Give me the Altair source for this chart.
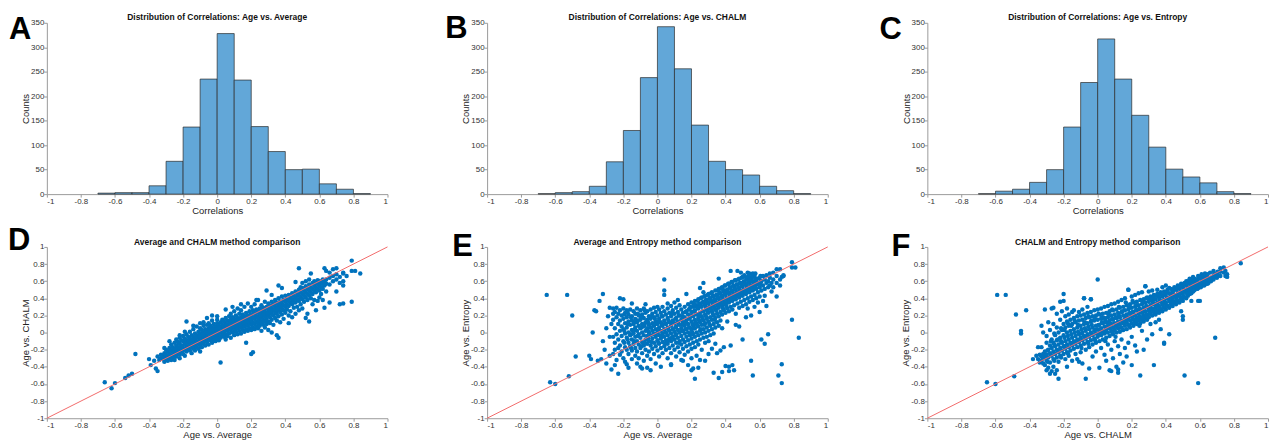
import altair as alt
import pandas as pd

FONT = "Liberation Sans"

# ---------------- histogram data ----------------
BIN_EDGES = [-0.7, -0.6, -0.5, -0.4, -0.3, -0.2, -0.1, 0.0, 0.1, 0.2, 0.3, 0.4, 0.5, 0.6, 0.7, 0.8, 0.9]
COUNTS_AVG = [2, 3, 3, 17, 67, 137, 235, 328, 233, 138, 87, 50, 51, 21, 10, 1]
COUNTS_CHALM = [1, 3, 5, 16, 66, 130, 238, 342, 256, 141, 67, 50, 39, 16, 7, 1]
COUNTS_ENTROPY = [1, 6, 10, 24, 50, 137, 228, 317, 235, 161, 96, 51, 35, 23, 5, 1]

CORR_TICKS = [-1, -0.8, -0.6, -0.4, -0.2, 0, 0.2, 0.4, 0.6, 0.8, 1]
COUNT_TICKS = [0, 50, 100, 150, 200, 250, 300, 350]

TITLES = [
    "Distribution of Correlations: Age vs. Average",
    "Distribution of Correlations: Age vs. CHALM",
    "Distribution of Correlations: Age vs. Entropy",
    "Average and CHALM method comparison",
    "Average and Entropy method comparison",
    "CHALM and Entropy method comparison",
]
LETTERS = ["A", "B", "C", "D", "E", "F"]

# ---------------- scatter data (x value: list of y values) ----------------
D_COLS = [
    (-0.33, [-0.30, -0.26]), (-0.32, [-0.27, -0.31]), (-0.31, [-0.24, -0.29]),
    (-0.30, [-0.20, -0.26, -0.31]), (-0.29, [-0.22, -0.28]), (-0.28, [-0.18, -0.25, -0.30]),
    (-0.27, [-0.21, -0.27, -0.14]), (-0.26, [-0.17, -0.23, -0.29]), (-0.25, [-0.12, -0.20, -0.26]),
    (-0.24, [-0.15, -0.22, -0.28, -0.08]), (-0.23, [-0.18, -0.24, -0.11]),
    (-0.22, [-0.13, -0.20, -0.26, -0.06]), (-0.21, [-0.16, -0.22, -0.09]),
    (-0.20, [-0.10, -0.18, -0.25, -0.04]), (-0.19, [-0.13, -0.20, -0.07, -0.27]),
    (-0.18, [-0.09, -0.16, -0.22, 0.13, -0.02]), (-0.17, [-0.12, -0.19, -0.05]),
    (-0.16, [-0.07, -0.14, -0.21, 0.01]), (-0.15, [-0.10, -0.17, -0.03, -0.24]),
    (-0.14, [-0.05, -0.12, -0.19, 0.04]), (-0.13, [-0.08, -0.15, -0.01, -0.21]),
    (-0.12, [-0.03, -0.10, -0.17, 0.07]), (-0.11, [-0.06, -0.13, 0.01, -0.19]),
    (-0.10, [-0.01, -0.08, -0.15, 0.05, -0.22]), (-0.09, [-0.04, -0.11, 0.03, -0.17]),
    (-0.08, [0.00, -0.07, -0.13, 0.08, 0.12]), (-0.07, [-0.03, -0.09, 0.04, -0.15]),
    (-0.06, [0.02, -0.05, -0.11, 0.09]), (-0.05, [-0.01, -0.07, 0.05, -0.14, 0.11]),
    (-0.04, [0.03, -0.04, -0.09, 0.08]), (-0.03, [0.00, -0.06, 0.06, -0.12, 0.14]),
    (-0.02, [0.04, -0.02, -0.08, 0.10]), (-0.01, [0.01, -0.05, 0.07, -0.10]),
    (0.00, [0.05, -0.01, -0.07, 0.11, 0.15]), (0.01, [0.02, -0.04, 0.08, -0.09]),
    (0.02, [0.06, 0.00, 0.12, -0.06, -0.35]), (0.03, [0.03, -0.03, 0.09, 0.15]),
    (0.04, [0.07, 0.01, -0.05, 0.13]), (0.05, [0.04, 0.10, -0.02, 0.17, -0.08]),
    (0.06, [0.08, 0.02, 0.14, -0.04]), (0.07, [0.05, 0.11, -0.01, 0.19]),
    (0.08, [0.09, 0.03, 0.15, -0.06, 0.22]), (0.09, [0.06, 0.12, 0.00, 0.18]),
    (0.10, [0.10, 0.04, 0.16, -0.03, 0.25]), (0.11, [0.07, 0.13, 0.01, 0.20]),
    (0.12, [0.11, 0.05, 0.17, -0.02, 0.28]), (0.13, [0.08, 0.14, 0.02, 0.22]),
    (0.14, [0.12, 0.06, 0.18, -0.01, 0.26]), (0.15, [0.09, 0.15, 0.03, 0.21]),
    (0.16, [0.13, 0.07, 0.19, 0.01, 0.30]), (0.17, [0.10, 0.16, 0.04, 0.23, -0.12]),
    (0.18, [0.14, 0.08, 0.20, 0.02, 0.34]), (0.19, [0.11, 0.17, 0.05, 0.25]),
    (0.20, [0.15, 0.09, 0.21, 0.03, 0.30, -0.25]), (0.21, [0.12, 0.18, 0.06, 0.26, -0.23]),
    (0.22, [0.16, 0.10, 0.22, 0.04, 0.33]), (0.23, [0.13, 0.19, 0.07, 0.27]),
    (0.24, [0.17, 0.11, 0.23, 0.05, 0.38]), (0.25, [0.14, 0.20, 0.08, 0.28]),
    (0.26, [0.18, 0.12, 0.24, 0.02, 0.32]), (0.27, [0.15, 0.21, 0.09, 0.29]),
    (0.28, [0.19, 0.13, 0.25, 0.06, 0.36]), (0.29, [0.16, 0.22, 0.10, 0.30]),
    (0.30, [0.20, 0.27, 0.13, 0.34, 0.03]), (0.31, [0.18, 0.24, 0.31, 0.11]),
    (0.32, [0.22, 0.28, 0.15, 0.36, 0.00]), (0.33, [0.20, 0.26, 0.33, 0.09]),
    (0.34, [0.24, 0.30, 0.17, 0.38]), (0.35, [0.22, 0.28, 0.35, 0.14, -0.03]),
    (0.36, [0.26, 0.32, 0.19, 0.40, -0.06]), (0.37, [0.24, 0.30, 0.36, 0.12]),
    (0.38, [0.28, 0.34, 0.21, 0.42]), (0.39, [0.26, 0.32, 0.38, 0.16]),
    (0.40, [0.30, 0.36, 0.23, 0.43]), (0.41, [0.33, 0.39, 0.27]),
    (0.42, [0.31, 0.37, 0.44, 0.11, 0.20]), (0.43, [0.35, 0.41, 0.25]),
    (0.44, [0.33, 0.39, 0.46, 0.18]), (0.45, [0.37, 0.43, 0.29]),
    (0.46, [0.35, 0.41, 0.48, 0.22, 0.59]), (0.47, [0.39, 0.45, 0.30]),
    (0.48, [0.37, 0.43, 0.50, 0.26, 0.75]), (0.49, [0.41, 0.47, 0.33, 0.53]),
    (0.50, [0.39, 0.45, 0.52, 0.28, 0.58]), (0.51, [0.43, 0.49, 0.36]),
    (0.52, [0.41, 0.47, 0.54, 0.60, 0.17]), (0.53, [0.45, 0.51, 0.38, 0.22]),
    (0.54, [0.43, 0.49, 0.56, 0.62, 0.13]), (0.55, [0.47, 0.53, 0.40, 0.69]),
    (0.56, [0.45, 0.51, 0.58, 0.33]), (0.57, [0.49, 0.55, 0.60, 0.38]),
    (0.58, [0.47, 0.53, 0.59, 0.26]), (0.59, [0.51, 0.57, 0.61, 0.37]),
    (0.60, [0.49, 0.55, 0.60, 0.41]), (0.61, [0.53, 0.58, 0.45]),
    (0.62, [0.51, 0.57, 0.62, 0.38]), (0.63, [0.55, 0.60, 0.75, 0.29]),
    (0.64, [0.57, 0.62, 0.48, 0.72]), (0.66, [0.56, 0.64, 0.70, 0.35]),
    (0.68, [0.60, 0.66, 0.74]), (0.70, [0.62, 0.75, 0.48, 0.68]),
    (0.72, [0.65, 0.58, 0.33]), (0.74, [0.60, 0.70, 0.55, 0.34, 0.69]),
    (0.76, [0.66]), (0.79, [0.84, 0.72, 0.36]), (0.81, [0.72]), (0.84, [0.69]),
]
D_FILL = [
    (-0.245, [-0.19, -0.25]), (-0.225, [-0.17, -0.23]), (-0.205, [-0.15, -0.21]),
    (-0.185, [-0.13, -0.19]), (-0.165, [-0.10, -0.17]), (-0.145, [-0.08, -0.15]),
    (-0.125, [-0.06, -0.13]), (-0.105, [-0.04, -0.11]), (-0.085, [-0.02, -0.09]),
    (-0.065, [0.00, -0.07]), (-0.045, [0.01, -0.06]), (-0.025, [0.03, -0.04]),
    (-0.005, [0.04, -0.02]), (0.015, [0.06, 0.00]), (0.035, [0.08, 0.01]),
    (0.055, [0.09, 0.03]), (0.075, [0.11, 0.05]), (0.095, [0.13, 0.07]),
    (0.115, [0.14, 0.08]), (0.135, [0.16, 0.10]), (0.155, [0.18, 0.12]),
    (0.175, [0.19, 0.13]), (0.195, [0.21, 0.15]), (0.215, [0.23, 0.17]),
    (0.235, [0.24, 0.18]), (0.255, [0.26, 0.20]), (0.275, [0.28, 0.22]),
    (0.295, [0.29, 0.23]), (0.315, [0.31, 0.25]), (0.335, [0.33, 0.27]),
    (0.355, [0.34, 0.28]), (0.375, [0.36, 0.30]),
]
D_EXTRA = [
    (-0.66, -0.58), (-0.62, -0.65), (-0.60, -0.59), (-0.54, -0.53), (-0.52, -0.50),
    (-0.50, -0.48), (-0.48, -0.25), (-0.40, -0.31), (-0.39, -0.38), (-0.36, -0.42),
    (-0.35, -0.45), (-0.37, -0.33), (-0.34, -0.32), (-0.35, -0.28), (-0.31, -0.34),
    (-0.29, -0.33), (-0.27, -0.32), (-0.25, -0.32), (-0.22, -0.30), (-0.31, -0.18),
    (-0.28, -0.10), (-0.22, -0.03), (-0.19, 0.01), (-0.14, 0.08), (-0.10, 0.11),
    (-0.06, 0.17), (-0.03, 0.20), (0.00, 0.19), (0.05, 0.27), (0.09, 0.30), (0.14, 0.33),
    (0.29, 0.49), (0.36, 0.55), (0.38, 0.52), (0.23, 0.38), (0.32, 0.44),
]

E_COLS = [
    (-0.26, [0.28, 0.22, 0.15, -0.05, -0.25]), (-0.25, [0.24, 0.05, -0.12, -0.20]),
    (-0.24, [0.29, 0.18, -0.02, -0.32]), (-0.23, [0.22, 0.10, -0.08, -0.18]),
    (-0.22, [0.26, 0.14, 0.02, -0.15, -0.26]), (-0.21, [0.20, 0.07, -0.04, -0.22]),
    (-0.20, [0.28, 0.16, 0.04, -0.10, -0.30]), (-0.19, [0.23, 0.11, -0.01, -0.17]),
    (-0.18, [0.26, 0.18, 0.06, -0.06, -0.20, -0.37]), (-0.17, [0.21, 0.13, 0.00, -0.12, -0.25]),
    (-0.16, [0.27, 0.09, -0.03, -0.16]), (-0.15, [0.19, 0.14, 0.03, -0.08, -0.21, -0.31]),
    (-0.14, [0.25, 0.10, -0.01, -0.13]), (-0.13, [0.22, 0.16, 0.06, -0.05, -0.18, -0.27]),
    (-0.12, [0.28, 0.12, 0.02, -0.10, -0.22]), (-0.11, [0.20, 0.08, -0.02, -0.14, -0.30]),
    (-0.10, [0.26, 0.15, 0.05, -0.06, -0.18, -0.40]), (-0.09, [0.21, 0.10, 0.00, -0.11, -0.24]),
    (-0.08, [0.28, 0.17, 0.07, -0.03, -0.15, -0.33]), (-0.07, [0.23, 0.12, 0.02, -0.08, -0.20]),
    (-0.06, [0.25, 0.15, 0.05, -0.04, -0.13, -0.27, -0.41]), (-0.05, [0.19, 0.09, 0.00, -0.10, -0.22]),
    (-0.04, [0.27, 0.16, 0.06, -0.03, -0.15, -0.31]), (-0.03, [0.22, 0.11, 0.02, -0.07, -0.19]),
    (-0.02, [0.29, 0.18, 0.08, -0.01, -0.12, -0.25]), (-0.01, [0.24, 0.13, 0.04, -0.05, -0.16, -0.36]),
    (0.00, [0.20, 0.10, 0.00, -0.09, -0.21]), (0.01, [0.27, 0.16, 0.06, -0.03, -0.13, -0.28]),
    (0.02, [0.23, 0.12, 0.02, -0.07, -0.18]), (0.03, [0.30, 0.19, 0.08, -0.01, -0.11, -0.24]),
    (0.04, [0.25, 0.14, 0.04, -0.05, -0.16, 0.62, 0.49, 0.44]), (0.05, [0.21, 0.10, 0.00, -0.09, -0.20]),
    (0.06, [0.28, 0.17, 0.06, -0.03, -0.13, -0.30]), (0.07, [0.23, 0.12, 0.02, -0.07, -0.18]),
    (0.08, [0.31, 0.19, 0.08, -0.01, -0.10, -0.24, -0.38]), (0.09, [0.26, 0.14, 0.04, -0.05, -0.15]),
    (0.10, [0.22, 0.11, 0.01, -0.08, -0.20, 0.35]), (0.11, [0.29, 0.17, 0.07, -0.02, -0.12, -0.28]),
    (0.12, [0.24, 0.13, 0.03, -0.06, -0.17]), (0.13, [0.32, 0.20, 0.09, 0.00, -0.10, -0.23]),
    (0.14, [0.27, 0.15, 0.05, -0.04, -0.14, -0.32]), (0.15, [0.23, 0.12, 0.02, -0.08, -0.19]),
    (0.16, [0.30, 0.18, 0.08, -0.01, -0.11, -0.26]), (0.17, [0.25, 0.14, 0.04, -0.05, -0.16, 0.45]),
    (0.18, [0.33, 0.21, 0.10, 0.00, -0.09, -0.22, -0.38]), (0.19, [0.28, 0.17, 0.06, -0.03, -0.14]),
    (0.20, [0.35, 0.24, 0.13, 0.03, -0.07, -0.19, -0.30]), (0.21, [0.30, 0.19, 0.08, -0.02, -0.12, -0.42]),
    (0.22, [0.37, 0.26, 0.15, 0.05, -0.05, -0.17, -0.54]), (0.23, [0.32, 0.21, 0.10, 0.00, -0.10, -0.27]),
    (0.24, [0.39, 0.28, 0.17, 0.07, -0.03, -0.14]), (0.25, [0.34, 0.23, 0.12, 0.02, -0.08, -0.32, 0.52]),
    (0.26, [0.41, 0.30, 0.19, 0.09, -0.01, -0.20]), (0.27, [0.36, 0.25, 0.14, 0.04, -0.06, 0.58]),
    (0.28, [0.43, 0.32, 0.21, 0.11, 0.00, -0.12, -0.33]), (0.29, [0.38, 0.27, 0.16, 0.06, -0.05]),
    (0.30, [0.45, 0.34, 0.23, 0.13, 0.02, -0.10, -0.25]), (0.31, [0.40, 0.29, 0.18, 0.08, -0.03]),
    (0.32, [0.47, 0.36, 0.25, 0.15, 0.04, -0.19]), (0.33, [0.42, 0.31, 0.20, 0.10, -0.01, -0.47]),
    (0.34, [0.49, 0.38, 0.27, 0.17, 0.06, -0.13]), (0.35, [0.44, 0.33, 0.22, 0.12, -0.24]),
    (0.36, [0.51, 0.40, 0.29, 0.19, 0.08, -0.53, 0.63]), (0.37, [0.46, 0.35, 0.24, 0.14, -0.21]),
    (0.38, [0.53, 0.42, 0.31, 0.21, 0.05]), (0.39, [0.48, 0.37, 0.26, -0.17]),
    (0.40, [0.55, 0.44, 0.33, 0.23, -0.39]), (0.41, [0.50, 0.39, 0.28, 0.13]),
    (0.42, [0.57, 0.46, 0.35, 0.25, -0.45, -0.40]), (0.43, [0.52, 0.41, 0.30, 0.72, -0.15]),
    (0.44, [0.59, 0.48, 0.37, 0.27]), (0.45, [0.54, 0.43, 0.32, -0.44]),
    (0.46, [0.61, 0.50, 0.39, 0.22, 0.09]), (0.47, [0.56, 0.45, 0.34, 0.72]),
    (0.48, [0.63, 0.52, 0.41, 0.29, 0.07]), (0.49, [0.58, 0.47, 0.36, 0.70]),
    (0.50, [0.65, 0.54, 0.43, 0.31, -0.08]), (0.51, [0.60, 0.49, 0.38, 0.67]),
    (0.52, [0.56, 0.45, 0.33, 0.18]), (0.53, [0.62, 0.51, 0.40, 0.70, 0.28]),
    (0.54, [0.58, 0.47, 0.36, 0.69]), (0.55, [0.64, 0.53, 0.42, -0.33, 0.20]),
    (0.56, [0.60, 0.49, 0.38, -0.50, 0.69]), (0.57, [0.66, 0.55, 0.44, 0.30]),
    (0.58, [0.62, 0.51, 0.40]), (0.59, [0.58, 0.47, 0.35]),
    (0.60, [0.64, 0.53, 0.42, 0.24]), (0.61, [0.60, 0.49, -0.08]),
    (0.62, [0.66, 0.55, 0.37]), (0.63, [0.62, 0.51, 0.43, -0.13]),
    (0.64, [0.58, 0.67, 0.31]), (0.65, [0.60, 0.53, -0.02]),
    (0.66, [0.64, 0.55, 0.69]), (0.67, [0.58, 0.48]), (0.68, [0.62, 0.53, 0.70]),
    (0.70, [0.66, 0.58, 0.74, 0.42]), (0.71, [-0.50]), (0.72, [0.62, 0.55, 0.74]),
    (0.73, [0.65, -0.59, -0.37]), (0.74, [0.67, 0.66]), (0.79, [0.82, 0.76, 0.15]),
    (0.81, [0.76]), (0.83, [-0.06]),
]
E_FILL = [
    (-0.195, [0.21, 0.02, -0.12]), (-0.175, [0.10, -0.08, 0.24]), (-0.155, [0.18, -0.02, -0.18]),
    (-0.135, [0.03, 0.12, -0.10]), (-0.115, [0.22, -0.04, 0.14]), (-0.095, [0.06, -0.16, 0.18]),
    (-0.075, [0.09, -0.12, 0.26]), (-0.055, [0.12, 0.02, -0.07]), (-0.035, [0.06, -0.11, 0.19]),
    (-0.015, [0.10, -0.02, 0.16]), (0.005, [0.04, 0.13, -0.12]), (0.025, [0.09, -0.04, 0.19]),
    (0.045, [0.11, 0.00, -0.13]), (0.065, [0.14, 0.04, -0.09]), (0.085, [0.11, 0.22, -0.06]),
    (0.105, [0.06, 0.16, -0.03]), (0.125, [0.10, 0.20, -0.12]), (0.145, [0.02, 0.19, 0.09]),
    (0.165, [0.12, 0.24, 0.04]), (0.185, [0.16, 0.06, 0.27]), (0.205, [0.10, 0.20, 0.00]),
    (0.225, [0.12, 0.31, 0.22]), (0.245, [0.20, 0.14, 0.33]), (0.265, [0.25, 0.16, 0.35]),
    (0.285, [0.29, 0.19, 0.38]), (0.305, [0.30, 0.40, 0.10]), (0.325, [0.33, 0.43, 0.22]),
    (0.345, [0.35, 0.44, 0.26]), (0.365, [0.37, 0.47, 0.33]), (0.385, [0.39, 0.50, 0.28]),
    (0.405, [0.40, 0.49, 0.31]), (0.425, [0.43, 0.53, 0.38]), (0.445, [0.45, 0.55, 0.41]),
    (0.465, [0.47, 0.56, 0.44]), (0.485, [0.49, 0.58, 0.45]), (0.505, [0.50, 0.59, 0.47]),
    (0.525, [0.53, 0.62, 0.49]), (0.545, [0.55, 0.63, 0.50]), (0.565, [0.57, 0.65, 0.52]),
    (0.585, [0.58, 0.56, 0.63]), (0.605, [0.60, 0.57, 0.66]),
]
E_BAND = [
    (0.195, [0.30, 0.19, -0.02]), (0.215, [0.33, 0.05, 0.25]), (0.235, [0.29, 0.37, 0.08]),
    (0.255, [0.31, 0.40, 0.04]), (0.275, [0.34, 0.42, 0.09]), (0.295, [0.35, 0.25, 0.44]),
    (0.315, [0.37, 0.27, 0.46]), (0.335, [0.39, 0.29, 0.15]), (0.355, [0.41, 0.31, 0.49]),
    (0.375, [0.43, 0.33, 0.52]), (0.395, [0.45, 0.35, 0.55]), (0.415, [0.47, 0.36, 0.57]),
    (0.435, [0.49, 0.39, 0.59]), (0.455, [0.51, 0.41, 0.61]), (0.475, [0.53, 0.43, 0.62]),
    (0.495, [0.55, 0.45, 0.64]), (0.515, [0.57, 0.47, 0.65]), (0.535, [0.59, 0.49, 0.66]),
    (0.555, [0.60, 0.51, 0.68]), (0.575, [0.61, 0.53, 0.69]),
]
E_EXTRA = [
    (-0.65, 0.44), (-0.53, 0.44), (-0.50, 0.20), (-0.48, -0.28), (-0.63, -0.58), (-0.60, -0.60),
    (-0.52, -0.51), (-0.40, -0.27), (-0.39, -0.31), (-0.38, 0.00), (-0.37, 0.26), (-0.36, 0.25),
    (-0.34, 0.37), (-0.32, 0.45), (-0.35, -0.33), (-0.33, -0.31), (-0.32, -0.10), (-0.31, -0.20),
    (-0.30, 0.05), (-0.30, -0.36), (-0.29, 0.19), (-0.28, 0.29), (-0.28, -0.05), (-0.28, -0.27),
    (-0.27, -0.43), (-0.27, 0.10), (-0.25, -0.38), (-0.23, -0.48), (-0.22, 0.40), (-0.20, 0.39),
    (-0.19, -0.34), (-0.17, -0.41), (-0.15, 0.34), (-0.12, -0.36), (-0.09, -0.42), (-0.07, 0.33),
    (-0.04, -0.44), (0.00, 0.30), (0.02, -0.40), (0.06, 0.34), (0.08, -0.37), (0.12, 0.38),
    (0.15, -0.33), (0.20, -0.44), (0.27, 0.47), (0.24, -0.41), (0.38, -0.46), (0.44, -0.38),
]

F_COLS = [
    (-0.33, [-0.28, -0.33, -0.17, 0.08]), (-0.32, [-0.25, -0.30, -0.36, 0.00]),
    (-0.31, [-0.22, -0.28, 0.27, -0.38]), (-0.30, [-0.26, -0.12, -0.33, -0.04]),
    (-0.29, [-0.20, -0.29, -0.41, 0.12]), (-0.28, [-0.24, -0.15, -0.35, 0.03]),
    (-0.27, [-0.18, -0.27, -0.45, -0.08, 0.28]), (-0.26, [-0.22, -0.12, -0.31, -0.40, 0.10]),
    (-0.25, [-0.16, -0.25, -0.03, -0.48]), (-0.24, [-0.20, -0.09, -0.29, 0.06, 0.22]),
    (-0.23, [-0.14, -0.23, 0.00, -0.54, -0.34]), (-0.22, [-0.18, -0.06, -0.27, 0.15, 0.36]),
    (-0.21, [-0.12, -0.21, 0.03, 0.25]), (-0.20, [-0.16, -0.03, -0.25, 0.10, 0.45]),
    (-0.19, [-0.10, -0.19, 0.06, 0.19, -0.31]), (-0.18, [-0.14, 0.00, -0.23, 0.13, 0.28]),
    (-0.17, [-0.08, -0.17, 0.08, 0.21, -0.27]), (-0.16, [-0.12, 0.02, -0.21, 0.15]),
    (-0.15, [-0.06, -0.15, 0.10, 0.24, -0.33]), (-0.14, [-0.10, 0.04, -0.19, 0.17, 0.26]),
    (-0.13, [-0.04, -0.13, 0.12, -0.25]), (-0.12, [-0.08, 0.06, -0.17, 0.19, -0.31]),
    (-0.11, [-0.02, -0.11, 0.14, 0.24]), (-0.10, [-0.06, 0.08, -0.15, 0.20, -0.23]),
    (-0.09, [0.00, -0.09, 0.15, 0.27, -0.36]), (-0.08, [-0.04, 0.10, -0.13, 0.21, 0.40]),
    (-0.07, [0.02, -0.07, 0.17, -0.20, -0.54]), (-0.06, [-0.02, 0.11, -0.11, 0.23, 0.30]),
    (-0.05, [0.04, -0.05, 0.18, -0.17, -0.42]), (-0.04, [0.00, 0.13, -0.09, 0.24, 0.39]),
    (-0.03, [0.06, -0.03, 0.19, -0.14, -0.28]), (-0.02, [0.02, 0.14, -0.07, 0.26]),
    (-0.01, [0.08, -0.01, 0.20, -0.12, -0.22]), (0.00, [0.04, 0.15, -0.05, 0.27, 0.62]),
    (0.01, [0.09, 0.01, 0.21, -0.10, -0.41]), (0.02, [0.05, 0.16, -0.03, 0.28, -0.18]),
    (0.03, [0.11, 0.02, 0.22, -0.08]), (0.04, [0.07, 0.17, -0.01, 0.30, -0.26]),
    (0.05, [0.12, 0.04, 0.23, -0.06, -0.33]), (0.06, [0.08, 0.18, 0.00, 0.31, -0.14]),
    (0.07, [0.14, 0.05, 0.25, -0.04]), (0.08, [0.10, 0.20, 0.02, 0.33, -0.20, -0.45]),
    (0.09, [0.15, 0.06, 0.26, -0.02, -0.30]), (0.10, [0.11, 0.21, 0.03, 0.34, -0.10]),
    (0.11, [0.17, 0.08, 0.27, 0.00, -0.40]), (0.12, [0.13, 0.23, 0.05, 0.36, -0.16, -0.47, -0.43]),
    (0.13, [0.18, 0.09, 0.29, 0.01, -0.25]), (0.14, [0.14, 0.24, 0.06, 0.38, -0.08]),
    (0.15, [0.20, 0.11, 0.30, 0.03, -0.35]), (0.16, [0.16, 0.26, 0.08, 0.40, -0.18]),
    (0.17, [0.21, 0.12, 0.32, 0.04, -0.28]), (0.18, [0.17, 0.27, 0.09, 0.50, -0.12]),
    (0.19, [0.23, 0.14, 0.33, 0.06]), (0.20, [0.19, 0.29, 0.11, 0.42, -0.05, -0.38]),
    (0.21, [0.24, 0.15, 0.35, 0.08]), (0.22, [0.20, 0.30, 0.12, 0.44, -0.15]),
    (0.23, [0.26, 0.17, 0.36, 0.10, -0.22]), (0.24, [0.22, 0.32, 0.14, 0.46]),
    (0.25, [0.27, 0.18, 0.38, 0.11, -0.50]), (0.26, [0.23, 0.33, 0.15, 0.47, 0.02]),
    (0.27, [0.29, 0.20, 0.39, 0.13, -0.20]), (0.28, [0.25, 0.35, 0.17, 0.54]),
    (0.29, [0.30, 0.21, 0.41, 0.15, -0.08]), (0.30, [0.26, 0.36, 0.18, 0.48]),
    (0.31, [0.32, 0.23, 0.42, 0.10]), (0.32, [0.28, 0.38, 0.20, 0.49, -0.02]),
    (0.33, [0.33, 0.24, 0.44, -0.38]), (0.34, [0.29, 0.39, 0.21, 0.12]),
    (0.35, [0.35, 0.26, 0.45, 0.50]), (0.36, [0.31, 0.41, 0.23, 0.15]),
    (0.37, [0.36, 0.27, 0.47, 0.04]), (0.38, [0.33, 0.42, 0.25, 0.53]),
    (0.39, [0.38, 0.29, 0.48, -0.13]), (0.40, [0.35, 0.44, 0.27, 0.55]),
    (0.41, [0.40, 0.31, 0.50]), (0.42, [0.37, 0.46, 0.29, 0.52, -0.02]),
    (0.43, [0.42, 0.33, 0.51]), (0.44, [0.39, 0.48, 0.31, 0.47]),
    (0.45, [0.44, 0.35, 0.53]), (0.46, [0.41, 0.50, 0.33]),
    (0.47, [0.46, 0.37, 0.55, 0.52]), (0.48, [0.43, 0.51, 0.35]),
    (0.49, [0.48, 0.39, 0.57, 0.25]), (0.50, [0.45, 0.53, 0.37, 0.15, 0.19]),
    (0.51, [0.50, 0.41, 0.58, -0.50]), (0.52, [0.47, 0.55, 0.40, 0.60]),
    (0.53, [0.52, 0.43, 0.60]), (0.54, [0.49, 0.57, 0.45, 0.63]),
    (0.55, [0.54, 0.46, 0.62, 0.37]), (0.56, [0.51, 0.59, 0.48, 0.65]),
    (0.57, [0.56, 0.50, 0.63]), (0.58, [0.53, 0.61, 0.58]),
    (0.59, [0.58, 0.52, 0.66, 0.37, -0.59]), (0.60, [0.55, 0.63, 0.37]),
    (0.61, [0.60, 0.54, 0.68]), (0.62, [0.57, 0.65, 0.62]), (0.63, [0.62, 0.56, 0.69]),
    (0.64, [0.59, 0.66]), (0.65, [0.64, 0.58]), (0.66, [0.61, 0.70]),
    (0.68, [0.66, 0.62, 0.72]), (0.69, [-0.06]), (0.70, [0.68, 0.64]),
    (0.72, [0.71, 0.66, 0.75]), (0.74, [0.70, 0.76]), (0.75, [0.66, 0.72]),
    (0.76, [0.68, 0.65]), (0.84, [0.81]),
]
F_FILL = [
    (-0.295, [-0.21, -0.34]), (-0.275, [-0.26, -0.10]), (-0.255, [-0.14, -0.33, -0.01]),
    (-0.235, [-0.21, -0.08]), (-0.215, [-0.10, -0.29, 0.05]), (-0.195, [-0.16, 0.03, -0.06]),
    (-0.175, [-0.04, -0.24, 0.11]), (-0.155, [-0.13, 0.08, -0.02]), (-0.135, [0.00, -0.11, 0.14]),
    (-0.115, [-0.09, 0.01, 0.09]), (-0.095, [0.04, -0.01, -0.18]), (-0.075, [-0.05, 0.12, 0.05]),
    (-0.055, [0.07, -0.13, 0.19]), (-0.035, [-0.01, 0.09, 0.14]), (-0.015, [0.03, 0.16, -0.09]),
    (0.005, [0.09, -0.02, 0.22]), (0.025, [0.01, 0.12, 0.18]), (0.045, [0.14, 0.02, -0.10]),
    (0.065, [0.06, 0.21, 0.11]), (0.085, [0.16, 0.00, 0.27]), (0.105, [0.08, 0.18, -0.05]),
    (0.125, [0.20, 0.10, 0.30]), (0.145, [0.12, 0.03, 0.25]), (0.165, [0.19, 0.14, 0.35]),
    (0.185, [0.08, 0.22, 0.29]), (0.205, [0.17, 0.24, 0.37]), (0.225, [0.26, 0.14, 0.32]),
    (0.245, [0.19, 0.28, 0.08]), (0.265, [0.24, 0.35, 0.18]), (0.285, [0.31, 0.21, 0.40]),
    (0.305, [0.28, 0.38, 0.22]), (0.325, [0.35, 0.26, 0.41]), (0.345, [0.31, 0.43, 0.24]),
    (0.365, [0.38, 0.28, 0.45]), (0.385, [0.34, 0.44, 0.30]), (0.405, [0.40, 0.32, 0.47]),
    (0.425, [0.36, 0.45, 0.41]),
]
F_BAND = [
    (0.445, [0.42, 0.36, 0.50]), (0.465, [0.44, 0.38, 0.52]), (0.485, [0.46, 0.41, 0.54]),
    (0.505, [0.48, 0.42, 0.56]), (0.525, [0.50, 0.45, 0.57]), (0.545, [0.52, 0.47, 0.59]),
    (0.565, [0.54, 0.49, 0.61]), (0.585, [0.56, 0.51, 0.62]), (0.605, [0.58, 0.53, 0.64]),
    (0.625, [0.60, 0.55, 0.66]), (0.645, [0.62, 0.57, 0.68]), (0.665, [0.64, 0.60]),
    (0.685, [0.65, 0.69]), (0.705, [0.67, 0.71]),
]
F_EXTRA = [
    (-0.65, -0.58), (-0.60, -0.60), (-0.49, -0.51), (-0.59, 0.44), (-0.54, 0.44), (-0.48, 0.21),
    (-0.42, 0.26), (-0.45, 0.02), (-0.45, -0.01), (-0.38, -0.31), (-0.35, -0.17), (-0.36, -0.27),
    (-0.34, -0.35), (-0.30, -0.44), (-0.28, -0.48), (-0.26, 0.29), (-0.24, -0.44), (-0.20, 0.37),
    (-0.18, -0.40), (-0.11, -0.34), (-0.08, 0.40), (-0.04, 0.39), (0.18, 0.50), (0.28, 0.54),
    (-0.35, -0.31), (-0.34, -0.26), (0.07, -0.44), (0.39, -0.12),
]


def expand(col_lists, extra):
    rows = [{"x": x, "y": y} for cols in col_lists for x, ys in cols for y in ys]
    rows += [{"x": x, "y": y} for x, y in extra]
    return pd.DataFrame(rows)


LABEL_EXPR = "'' + datum.value"
W, H = 342, 172


def corr_axis(title):
    return alt.Axis(values=CORR_TICKS, labelExpr=LABEL_EXPR, title=title)


def letter_layer(letter, lx, ly):
    return alt.Chart(pd.DataFrame({"t": [letter]})).mark_text(
        font=FONT, fontSize=31, fontWeight="bold", align="left",
        baseline="alphabetic", color="black",
    ).encode(x=alt.value(lx), y=alt.value(ly), text="t:N")


def title_layer(text, ty):
    return alt.Chart(pd.DataFrame({"t": [text]})).mark_text(
        font=FONT, fontSize=8.5, fontWeight="bold", align="center",
        baseline="alphabetic", color="#111",
    ).encode(x=alt.value(W / 2), y=alt.value(ty), text="t:N")


def hist_panel(counts, title, letter, lx, ly):
    df = pd.DataFrame({"start": BIN_EDGES[:-1], "end": BIN_EDGES[1:], "count": counts})
    bars = alt.Chart(df).mark_bar(fill="#62A7D8", stroke="#2b2b2b", strokeWidth=0.7).encode(
        x=alt.X("start:Q", scale=alt.Scale(domain=[-1, 1], nice=False, zero=False),
                axis=corr_axis("Correlations")),
        x2="end:Q",
        y=alt.Y("count:Q", scale=alt.Scale(domain=[0, 350], nice=False),
                axis=alt.Axis(values=COUNT_TICKS, title="Counts")),
        y2=alt.datum(0),
    )
    return alt.layer(bars, letter_layer(letter, lx, ly), title_layer(title, -3)).properties(
        width=W, height=H)


def scatter_panel(df, title, xt, yt, letter, lx, ly):
    xs = alt.Scale(domain=[-1, 1], nice=False)
    ys = alt.Scale(domain=[-1, 1], nice=False)
    pts = alt.Chart(df).mark_circle(size=20, color="#0072BD", opacity=1).encode(
        x=alt.X("x:Q", scale=xs, axis=corr_axis(xt)),
        y=alt.Y("y:Q", scale=ys, axis=corr_axis(yt)),
    )
    line = alt.Chart(pd.DataFrame({"x": [-1, 1], "y": [-1, 1]})).mark_line(
        color="#F26B6B", strokeWidth=1).encode(
        x=alt.X("x:Q", scale=xs, axis=corr_axis(xt)),
        y=alt.Y("y:Q", scale=ys, axis=corr_axis(yt)),
    )
    return alt.layer(pts, line, letter_layer(letter, lx, ly), title_layer(title, -2)).properties(
        width=W, height=H)


pA = hist_panel(COUNTS_AVG, TITLES[0], LETTERS[0], -38, 16)
pB = hist_panel(COUNTS_CHALM, TITLES[1], LETTERS[1], -42, 15)
pC = hist_panel(COUNTS_ENTROPY, TITLES[2], LETTERS[2], -48, 16)
pD = scatter_panel(expand([D_COLS, D_FILL], D_EXTRA), TITLES[3], "Age vs. Average", "Age vs. CHALM", LETTERS[3], -39, 3)
pE = scatter_panel(expand([E_COLS, E_FILL, E_BAND], E_EXTRA), TITLES[4], "Age vs. Average", "Age vs. Entropy", LETTERS[4], -35, 9)
pF = scatter_panel(expand([F_COLS, F_FILL, F_BAND], F_EXTRA), TITLES[5], "Age vs. CHALM", "Age vs. Entropy", LETTERS[5], -36, 9)

chart = alt.concat(pA, pB, pC, pD, pE, pF, columns=3,
                   spacing={"row": 53, "column": 100}, bounds="flush").properties(
    padding={"left": 0, "top": 4, "right": 0, "bottom": 0}
).configure_view(stroke=None).configure_axis(
    grid=False, labelFont=FONT, titleFont=FONT, labelFontSize=8, titleFontSize=9.5,
    titleFontWeight="normal", labelColor="#333", titleColor="#222",
    domainColor="#9a9a9a", tickColor="#9a9a9a", tickSize=3, labelPadding=0, titlePadding=0,
    labelOverlap=False,
)

chart.save("out.html", embed_options={"renderer": "svg", "actions": False})
